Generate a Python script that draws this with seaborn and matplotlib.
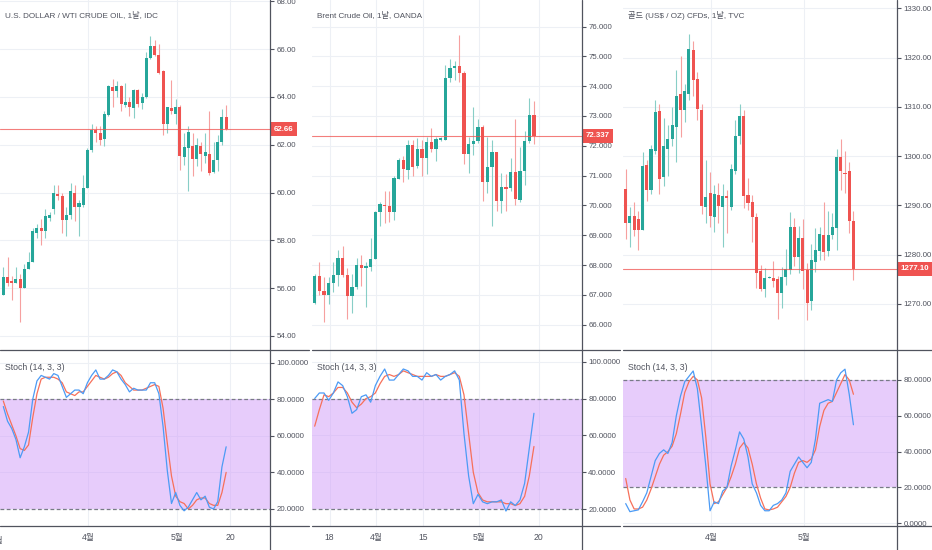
import matplotlib
matplotlib.use("Agg")
import numpy as np
import pandas as pd
import matplotlib.pyplot as plt
import matplotlib.transforms as mtransforms
from matplotlib.lines import Line2D
import seaborn as sns

# ---- data ----
wti_title = "U.S. DOLLAR / WTI CRUDE OIL, 1날, IDC"
wti_open = [55.72, 56.45, 56.3, 56.2, 56.4, 56.0, 56.8, 57.1, 58.3, 58.5, 58.4, 58.95, 59.3, 59.95, 59.85,
            58.85, 59.05, 60.0, 59.4, 59.5, 60.2, 61.8, 62.6, 62.5, 62.25, 63.25, 64.4, 64.25, 64.45, 63.65,
            63.8, 63.55, 64.3, 63.75, 64.0, 65.65, 66.15, 65.75, 65.1, 62.85, 63.55, 63.3, 63.6, 61.5, 61.85,
            61.95, 61.4, 61.95, 61.55, 61.6, 60.85, 61.35, 62.1, 63.15]
wti_high = [56.9, 57.3, 56.5, 56.9, 56.6, 57.0, 57.5, 58.5, 58.7, 58.9, 59.3, 59.2, 60.3, 60.3, 60.0,
            59.4, 60.4, 60.3, 59.7, 60.75, 61.85, 62.85, 62.8, 62.8, 63.4, 64.5, 64.75, 64.65, 64.5, 64.6,
            64.0, 64.35, 64.35, 64.15, 65.9, 66.55, 66.4, 66.2, 65.15, 63.6, 64.7, 63.9, 63.65, 62.5, 62.8,
            62.5, 62.3, 62.1, 62.5, 63.4, 62.1, 62.4, 63.5, 63.65]
wti_low = [55.7, 56.1, 55.5, 56.2, 54.6, 56.0, 56.8, 57.1, 58.1, 57.8, 58.1, 58.8, 59.1, 59.7, 58.3,
           58.2, 58.9, 58.8, 58.2, 59.4, 60.2, 61.7, 62.1, 62.0, 61.95, 63.2, 63.6, 64.0, 63.4, 63.6,
           63.2, 63.1, 63.6, 63.5, 63.95, 65.6, 65.7, 64.95, 62.4, 62.5, 63.3, 62.85, 60.95, 61.15, 60.05,
           60.7, 61.1, 60.9, 61.25, 60.75, 60.8, 60.9, 62.0, 62.6]
wti_close = [56.45, 56.2, 56.2, 56.4, 56.0, 56.8, 57.1, 58.4, 58.5, 58.4, 59.0, 59.05, 60.0, 59.85, 58.85,
             59.05, 60.05, 59.4, 59.55, 60.2, 61.8, 62.6, 62.5, 62.2, 63.3, 64.45, 64.25, 64.45, 63.7, 63.8,
             63.6, 64.3, 63.7, 64.0, 65.65, 66.15, 65.75, 65.0, 62.85, 63.6, 63.4, 63.6, 61.55, 61.9, 62.55,
             61.4, 62.0, 61.6, 61.7, 60.8, 61.35, 62.1, 63.15, 62.66]
wti_k = [76, 68, 64, 58, 48, 54, 62, 80, 90, 93, 92, 91, 94, 93, 87, 81, 83, 85, 85, 83, 89, 93, 96, 91, 91,
         93, 96, 95, 91, 88, 84, 86, 85, 85, 85, 89, 89, 83, 65, 41, 23, 29, 22, 19, 21, 25, 29, 25, 27, 21,
         20, 24, 43, 54]
wti_d = [79, 72, 66, 60, 53, 52, 55, 70, 83, 91, 92, 92, 92, 91, 89, 84, 83, 82, 84, 84, 87, 90, 93, 92, 91,
         92, 94, 95, 93, 89, 87, 85, 85, 85, 86, 87, 88, 87, 75, 56, 38, 27, 24, 23, 20, 22, 25, 26, 26, 23,
         22, 22, 29, 40]
wti_price_ticks = [54, 56, 58, 60, 62, 64, 66, 68]
wti_date_pos = [20.1, 41.3, 54.0]
wti_date_labels = ["4월", "5월", "20"]

brent_title = "Brent Crude Oil, 1날, OANDA"
brent_open = [66.74, 67.63, 67.14, 67.0, 67.41, 67.67, 68.22, 67.67, 66.96, 67.25, 68.0, 67.9, 67.95, 68.2,
              69.77, 70.03, 69.98, 69.79, 70.9, 71.53, 71.2, 72.03, 71.32, 71.9, 71.58, 72.14, 71.88, 72.2,
              72.2, 74.27, 74.6, 74.68, 74.43, 71.73, 72.06, 72.17, 72.64, 70.8, 71.28, 71.8, 70.16, 70.63,
              70.58, 71.13, 70.18, 71.17, 72.17, 73.04]
brent_high = [67.7, 68.1, 67.6, 67.6, 68.1, 68.5, 68.65, 67.9, 67.7, 68.25, 68.35, 68.1, 68.9, 69.8, 70.1,
              70.5, 70.5, 71.0, 71.6, 71.65, 72.2, 72.2, 72.25, 72.2, 72.3, 72.6, 72.3, 72.3, 74.7, 74.9,
              74.85, 75.7, 74.5, 72.3, 73.3, 72.9, 72.7, 72.3, 72.2, 71.8, 71.1, 71.05, 71.6, 72.9, 71.95,
              72.5, 73.6, 73.5]
brent_low = [66.7, 67.0, 66.1, 66.7, 67.1, 67.3, 67.6, 66.2, 66.4, 67.2, 67.3, 66.6, 67.8, 68.2, 69.3,
             69.4, 69.45, 69.5, 70.9, 70.8, 70.9, 71.0, 71.25, 71.0, 71.05, 71.8, 71.5, 72.15, 72.2, 74.15,
             74.2, 74.15, 71.4, 71.1, 71.7, 72.1, 70.15, 70.4, 69.3, 69.8, 69.75, 69.8, 70.5, 70.0, 70.1,
             70.7, 72.1, 72.05]
brent_close = [67.63, 67.14, 67.0, 67.41, 67.67, 68.22, 67.67, 66.96, 67.25, 68.0, 67.89, 67.97, 68.2, 69.77,
               70.05, 69.98, 69.79, 70.93, 71.53, 71.21, 72.03, 71.3, 71.9, 71.58, 72.14, 71.88, 72.22, 72.25,
               74.27, 74.6, 74.68, 74.43, 71.73, 72.06, 72.17, 72.64, 70.8, 71.28, 71.8, 70.16, 70.63, 70.56,
               71.13, 70.2, 71.17, 72.17, 73.04, 72.337]
brent_k = [80, 83, 83, 79, 83, 89, 87, 81, 72, 74, 81, 82, 78, 87, 92, 96, 90, 90, 93, 96, 95, 92, 92, 90,
           94, 92, 93, 90, 92, 93, 95, 90, 61, 38, 23, 28, 24, 23, 24, 24, 25, 19, 24, 22, 25, 34, 53, 72]
brent_d = [65, 74, 82, 81, 83, 86, 86, 83, 78, 75, 77, 80, 81, 83, 88, 92, 93, 92, 93, 95, 94, 93, 92, 92,
           92, 92, 93, 92, 92, 93, 94, 92, 82, 61, 40, 29, 25, 24, 24, 24, 24, 23, 23, 22, 23, 27, 38, 54]
brent_price_ticks = [66, 67, 68, 69, 70, 71, 72, 73, 74, 75, 76]
brent_date_pos = [3.2, 13.1, 23.2, 35.2, 48.0]
brent_date_labels = ["18", "4월", "15", "5월", "20"]

gold_title = "골드 (US$ / OZ) CFDs, 1날, TVC"
gold_open = [1293.3, 1286.4, 1287.85, 1287.2, 1285.1, 1298.2, 1293.1, 1301.0, 1309.2, 1295.8, 1301.4,
             1303.4, 1306.0, 1312.6, 1309.4, 1312.7, 1321.5, 1315.7, 1309.4, 1289.7, 1292.5, 1287.6,
             1292.2, 1289.75, 1292.0, 1289.6, 1297.0, 1304.1, 1308.15, 1292.1, 1290.6, 1287.6, 1276.6,
             1273.0, 1275.3, 1275.3, 1275.1, 1272.3, 1275.4, 1276.9, 1285.7, 1279.6, 1283.3, 1276.9,
             1270.5, 1278.6, 1280.8, 1284.0, 1280.8, 1284.0, 1285.35, 1299.9, 1296.6, 1297.0, 1286.9]
gold_high = [1297.4, 1289.7, 1290.7, 1288.8, 1300.9, 1299.2, 1302.2, 1311.3, 1310.6, 1307.7, 1306.3,
             1310.0, 1317.4, 1320.4, 1314.6, 1324.8, 1323.3, 1317.0, 1310.6, 1299.3, 1296.7, 1294.1,
             1294.6, 1294.3, 1293.1, 1298.4, 1307.3, 1310.6, 1309.4, 1295.6, 1292.1, 1288.5, 1278.0,
             1277.3, 1275.6, 1278.7, 1275.6, 1277.4, 1281.2, 1288.6, 1287.4, 1285.8, 1287.2, 1278.3,
             1282.1, 1285.4, 1285.7, 1290.6, 1288.8, 1288.4, 1301.4, 1303.4, 1301.0, 1298.8, 1288.8]
gold_low = [1283.1, 1281.6, 1283.8, 1280.9, 1285.0, 1290.8, 1292.3, 1300.4, 1292.3, 1293.9, 1296.0,
            1302.1, 1298.8, 1303.8, 1306.9, 1311.4, 1312.3, 1307.4, 1288.3, 1286.4, 1285.6, 1284.6,
            1286.4, 1281.6, 1284.4, 1289.1, 1296.4, 1302.4, 1289.5, 1289.1, 1282.5, 1273.3, 1272.6,
            1271.4, 1275.2, 1273.5, 1266.9, 1269.1, 1273.9, 1276.1, 1277.7, 1276.2, 1273.0, 1266.7,
            1268.8, 1276.5, 1279.0, 1278.9, 1279.7, 1283.2, 1281.0, 1293.1, 1292.6, 1284.3, 1274.8]
gold_close = [1286.5, 1287.85, 1285.1, 1285.0, 1298.1, 1293.1, 1301.4, 1308.9, 1295.4, 1302.1, 1303.4,
              1306.3, 1312.3, 1309.4, 1313.3, 1321.7, 1315.5, 1309.5, 1289.9, 1291.8, 1287.85, 1292.3,
              1289.8, 1292.0, 1291.5, 1297.3, 1304.1, 1308.15, 1291.9, 1290.4, 1287.6, 1276.3, 1273.0,
              1275.3, 1275.5, 1274.6, 1272.3, 1275.5, 1277.0, 1285.7, 1279.6, 1283.3, 1276.75, 1270.25,
              1278.9, 1281.0, 1284.2, 1280.6, 1284.0, 1285.7, 1299.9, 1297.05, 1296.4, 1286.9, 1277.1]
gold_k = [11, 6.5, 7, 7.5, 12, 17, 26, 35, 39, 41, 39, 45, 60, 71, 79, 82, 85, 75, 54, 32, 7, 12, 11, 18, 20,
          32, 41, 51, 47, 37, 22, 17, 10, 7, 7, 10, 11, 13, 17, 29, 33, 37, 34, 31, 34, 47, 67, 68, 69, 68,
          80, 84, 86, 72, 55]
gold_d = [25, 13, 8, 8, 9, 13, 19, 26, 33, 38, 40, 43, 50, 61, 73, 79, 82, 80, 70, 48, 22, 11, 12, 16, 20,
          26, 33, 42, 45, 42, 33, 22, 14, 8, 7.5, 8, 9, 12, 15, 20, 28, 34, 35, 34, 36, 41, 54, 63, 67, 68,
          73, 78, 83, 80, 72]
gold_price_ticks = [1270, 1280, 1290, 1300, 1310, 1320, 1330]
gold_date_pos = [20.2, 42.3]
gold_date_labels = ["4월", "5월"]

# ---- style ----
sns.set_theme(style="white")
plt.rcParams["font.family"] = ["Liberation Sans", "Noto Sans CJK KR", "DejaVu Sans"]

UP, DOWN = "#26A69A", "#EF5350"
UP_WICK, DOWN_WICK = "#88CEC7", "#F6A09F"
GRID = "#EDF0F5"
AXIS = "#50535E"
TXT = "#50535E"
TICK_FS = 5.7
W, H = 932, 550

fig = plt.figure(figsize=(W / 100, H / 100), dpi=100)


def px_axes(x0, x1, y0, y1):
    return fig.add_axes([x0 / W, 1 - y1 / H, (x1 - x0) / W, (y1 - y0) / H])


def fig_line(x0, x1, y0, y1):
    fig.add_artist(Line2D([x0 / W, x1 / W], [1 - y0 / H, 1 - y1 / H], transform=fig.transFigure,
                          color=AXIS, lw=0.9))


def draw_panel(plot_x, block_x, title, o, h, l, c, k, d, ylim, ticks, fmt, stoch_ylim, stoch_ticks,
               xlim, date_pos, date_labels):
    ax = px_axes(plot_x[0], plot_x[1], 0, 350)
    axs = px_axes(plot_x[0], plot_x[1], 350, 526)
    n = len(c)
    df = pd.DataFrame({"i": np.arange(n), "o": o, "h": h, "l": l, "c": c, "K": k, "D": d})
    up = df["c"] >= df["o"]

    # candles
    min_h = (ylim[1] - ylim[0]) / 350
    ax.vlines(df["i"], df["l"], df["h"], colors=np.where(up, UP_WICK, DOWN_WICK), lw=0.8, zorder=2)
    body = np.maximum((df["c"] - df["o"]).abs(), min_h)
    ax.bar(df["i"], body, bottom=np.minimum(df["o"], df["c"]), width=0.72,
           color=np.where(up, UP, DOWN), lw=0, zorder=3)
    last = c[-1]
    ax.axhline(last, color=DOWN, lw=0.8, alpha=0.75, zorder=4)
    blend = mtransforms.blended_transform_factory(ax.transAxes, ax.transData)
    ax.annotate(fmt.format(last) if fmt != "{:.3f}" else "{:.3f}".format(last), xy=(1, last),
                xycoords=blend, xytext=(2.6, 0), textcoords="offset points", ha="left", va="center",
                fontsize=TICK_FS, color="white", fontweight="bold", annotation_clip=False,
                bbox=dict(boxstyle="square,pad=0.42", fc=DOWN, ec="none"))
    ax.set_xlim(*xlim)
    ax.set_ylim(*ylim)
    ax.set_yticks(ticks)
    ax.set_yticklabels([fmt.format(t) for t in ticks])
    ax.set_xticks(date_pos)
    ax.tick_params(axis="x", length=0, labelbottom=False)
    ax.grid(True, color=GRID, lw=0.8)
    ax.set_axisbelow(True)
    width_px = plot_x[1] - plot_x[0]
    ax.text(5 / width_px, 1 - 16 / 350, title, transform=ax.transAxes, ha="left", va="center",
            fontsize=5.9, color=TXT)

    # stochastic
    axs.axhspan(20, 80, color="#D19BF9", alpha=0.5, lw=0, zorder=1)
    for lv in (20, 80):
        axs.axhline(lv, color="#787B86", ls=(0, (3, 2)), lw=0.9, zorder=2)
    sns.lineplot(data=df, x="i", y="K", ax=axs, color="#4C9BF5", lw=0.9, zorder=4)
    sns.lineplot(data=df, x="i", y="D", ax=axs, color="#F7705A", lw=0.9, zorder=3)
    axs.set_xlim(*xlim)
    axs.set_ylim(*stoch_ylim)
    axs.set_yticks(stoch_ticks)
    axs.set_yticklabels(["{:.4f}".format(t) for t in stoch_ticks])
    axs.set_xticks(date_pos)
    axs.set_xticklabels(date_labels)
    axs.set_xlabel("")
    axs.set_ylabel("")
    axs.grid(True, color=GRID, lw=0.8)
    axs.set_axisbelow(True)
    axs.text(5 / width_px, 1 - 17 / 176, "Stoch (14, 3, 3)", transform=axs.transAxes, ha="left",
             va="center", fontsize=6.3, color=TXT)

    for a in (ax, axs):
        a.yaxis.tick_right()
        a.tick_params(axis="y", length=3, width=0.8, color=AXIS, pad=1.5, labelsize=TICK_FS,
                      labelcolor=TXT)
        for s in a.spines.values():
            s.set_visible(False)
    axs.tick_params(axis="x", length=3, width=0.8, color=AXIS, pad=2, labelsize=6.2, labelcolor=TXT)

    # frame lines of the block
    fig_line(plot_x[1], plot_x[1], 0, H)
    fig_line(block_x[0], block_x[1], 350, 350)
    fig_line(block_x[0], block_x[1], 526, 526)
    return ax, axs


ax1, axs1 = draw_panel((0, 270.3), (0, 308.5), wti_title, wti_open, wti_high, wti_low, wti_close,
                       wti_k, wti_d, (53.41, 68.06), wti_price_ticks, "{:.2f}", (10.7, 106.9),
                       [20, 40, 60, 80, 100], (-0.79, 63.5), wti_date_pos, wti_date_labels)
axs1.text(-1.6, -14 / 176, "3월",
          transform=mtransforms.blended_transform_factory(axs1.transData, axs1.transAxes),
          ha="center", va="center", fontsize=6.2, color=TXT, clip_on=False)

draw_panel((311.7, 582.0), (311.7, 620), brent_title, brent_open, brent_high, brent_low, brent_close,
           brent_k, brent_d, (65.15, 76.89), brent_price_ticks, "{:.3f}", (10.9, 106.3),
           [20, 40, 60, 80, 100], (-0.64, 57.3), brent_date_pos, brent_date_labels)

draw_panel((623, 897.3), (623, 932), gold_title, gold_open, gold_high, gold_low, gold_close,
           gold_k, gold_d, (1260.65, 1331.7), gold_price_ticks, "{:.2f}", (-1.5, 96.7),
           [0, 20, 40, 60, 80], (-0.64, 64.4), gold_date_pos, gold_date_labels)

fig.savefig("out.png", dpi=100)
